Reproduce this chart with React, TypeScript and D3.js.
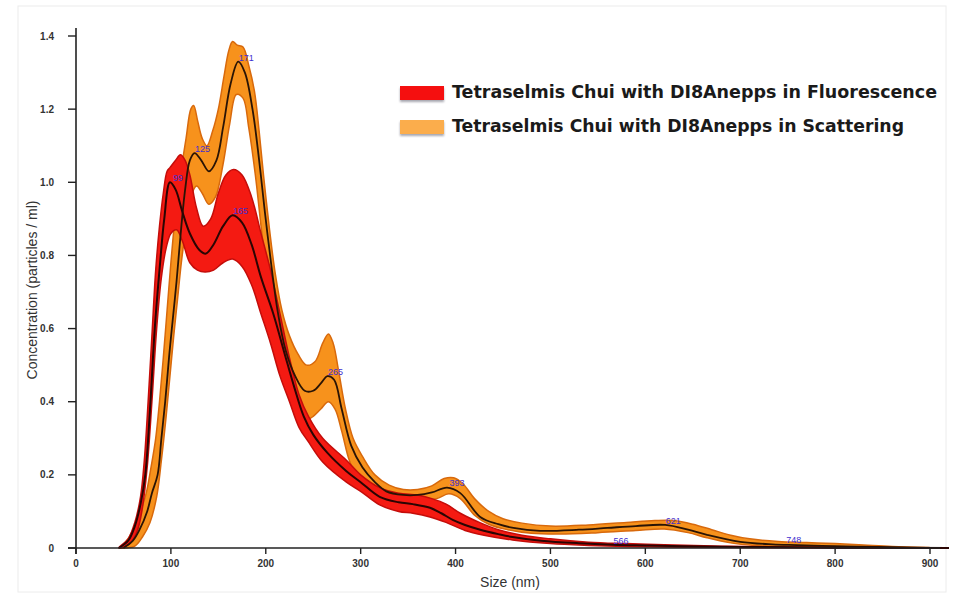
import React from "react";
import * as d3 from "d3";

// size (nm), concentration (particles / ml)
const fluoMean: [number, number][] = [
  [45, 0], [55, 0.02], [62, 0.06], [68, 0.12], [73, 0.2], [78, 0.38], [83, 0.6], [88, 0.76],
  [93, 0.9], [99, 1.0], [105, 0.98], [112, 0.92], [120, 0.86], [130, 0.815], [137, 0.805],
  [145, 0.83], [155, 0.88], [165, 0.91], [175, 0.89], [185, 0.83], [195, 0.74], [208, 0.64],
  [220, 0.53], [230, 0.44], [240, 0.36], [250, 0.31], [265, 0.26], [285, 0.21], [300, 0.18],
  [320, 0.14], [340, 0.125], [355, 0.12], [373, 0.11], [385, 0.095], [397, 0.077], [410, 0.063],
  [426, 0.05], [445, 0.038], [460, 0.03], [490, 0.02], [530, 0.013], [566, 0.009], [600, 0.007],
  [640, 0.005], [700, 0.003], [800, 0.001], [920, 0],
];
const fluoUpper: [number, number][] = [
  [45, 0], [55, 0.025], [62, 0.07], [68, 0.14], [72, 0.24], [76, 0.4], [80, 0.58], [84, 0.76],
  [88, 0.88], [92, 0.97], [96, 1.03], [99, 1.04], [105, 1.06], [110, 1.075], [115, 1.06], [120, 1.02],
  [127, 0.93], [134, 0.88], [142, 0.9], [150, 0.97], [158, 1.02], [166, 1.035], [175, 1.02],
  [185, 0.96], [195, 0.86], [205, 0.76], [215, 0.64], [225, 0.52], [235, 0.42], [245, 0.36],
  [260, 0.3], [285, 0.24], [300, 0.2], [320, 0.165], [340, 0.15], [360, 0.145], [375, 0.135],
  [390, 0.12], [405, 0.095], [425, 0.07], [445, 0.05], [470, 0.035], [500, 0.025], [540, 0.016],
  [580, 0.012], [620, 0.009], [680, 0.005], [750, 0.003], [850, 0.001], [920, 0],
];
const fluoLower: [number, number][] = [
  [48, 0], [58, 0.015], [65, 0.05], [70, 0.11], [75, 0.22], [80, 0.4], [85, 0.6], [90, 0.74],
  [95, 0.82], [100, 0.86], [106, 0.87], [112, 0.84], [120, 0.78], [128, 0.76], [136, 0.755],
  [145, 0.76], [155, 0.78], [165, 0.79], [175, 0.77], [185, 0.72], [195, 0.64], [205, 0.56],
  [215, 0.47], [225, 0.4], [235, 0.33], [245, 0.29], [260, 0.235], [285, 0.18], [300, 0.155],
  [320, 0.118], [340, 0.1], [355, 0.095], [373, 0.085], [390, 0.07], [410, 0.048], [430, 0.035],
  [460, 0.022], [500, 0.012], [540, 0.007], [580, 0.004], [640, 0.002], [720, 0.001], [800, 0],
  [920, 0],
];

const scatMean: [number, number][] = [
  [50, 0], [60, 0.02], [67, 0.05], [75, 0.1], [80, 0.15], [86, 0.2], [90, 0.3], [94, 0.4],
  [98, 0.52], [101, 0.6], [106, 0.73], [110, 0.85], [115, 0.98], [120, 1.06], [125, 1.08],
  [132, 1.06], [140, 1.03], [148, 1.06], [155, 1.15], [163, 1.27], [171, 1.33], [178, 1.3],
  [186, 1.2], [193, 1.06], [199, 0.92], [206, 0.77], [213, 0.64], [221, 0.54], [231, 0.47],
  [241, 0.43], [250, 0.43], [258, 0.45], [265, 0.47], [272, 0.46], [280, 0.38], [290, 0.28],
  [302, 0.22], [315, 0.18], [327, 0.155], [345, 0.145], [360, 0.145], [375, 0.152], [391, 0.165],
  [405, 0.15], [426, 0.085], [445, 0.065], [461, 0.055], [489, 0.047], [530, 0.05], [560, 0.055],
  [590, 0.06], [621, 0.063], [645, 0.05], [665, 0.036], [700, 0.017], [734, 0.01], [760, 0.008],
  [800, 0.005], [840, 0.003], [880, 0.001], [920, 0],
];
const scatUpper: [number, number][] = [
  [48, 0], [56, 0.03], [62, 0.06], [68, 0.1], [74, 0.15], [79, 0.22], [84, 0.3], [88, 0.4],
  [92, 0.52], [96, 0.65], [100, 0.78], [105, 0.92], [110, 1.02], [116, 1.12], [121, 1.2],
  [124, 1.21], [128, 1.17], [133, 1.12], [138, 1.1], [144, 1.14], [150, 1.2], [156, 1.29],
  [161, 1.36], [165, 1.385], [170, 1.375], [176, 1.37], [182, 1.32], [188, 1.25], [193, 1.14],
  [198, 1.01], [204, 0.87], [210, 0.75], [217, 0.65], [225, 0.58], [234, 0.53], [243, 0.5],
  [252, 0.51], [260, 0.56], [266, 0.585], [271, 0.56], [277, 0.48], [284, 0.38], [292, 0.3],
  [302, 0.25], [315, 0.2], [330, 0.172], [345, 0.16], [360, 0.16], [375, 0.17], [388, 0.19],
  [398, 0.192], [408, 0.175], [420, 0.135], [435, 0.1], [450, 0.08], [470, 0.068], [500, 0.06],
  [540, 0.063], [580, 0.07], [610, 0.075], [630, 0.075], [650, 0.065], [670, 0.05], [690, 0.035],
  [710, 0.025], [740, 0.018], [770, 0.015], [800, 0.012], [830, 0.008], [860, 0.004],
  [900, 0.001], [920, 0],
];
const scatLower: [number, number][] = [
  [52, 0], [62, 0.005], [70, 0.03], [78, 0.07], [85, 0.14], [90, 0.24], [95, 0.36], [99, 0.47],
  [103, 0.58], [107, 0.68], [111, 0.78], [116, 0.88], [121, 0.96], [127, 0.99], [133, 0.97],
  [140, 0.94], [147, 0.96], [155, 1.05], [162, 1.16], [169, 1.24], [176, 1.23], [182, 1.15],
  [189, 1.02], [195, 0.88], [201, 0.75], [208, 0.63], [216, 0.52], [224, 0.44], [233, 0.38],
  [242, 0.35], [250, 0.36], [258, 0.38], [266, 0.4], [273, 0.38], [280, 0.32], [288, 0.24],
  [297, 0.19], [310, 0.16], [325, 0.14], [345, 0.13], [365, 0.13], [380, 0.135], [393, 0.148],
  [405, 0.135], [420, 0.09], [435, 0.065], [455, 0.05], [480, 0.04], [510, 0.038], [550, 0.042],
  [590, 0.048], [620, 0.052], [645, 0.042], [665, 0.028], [690, 0.014], [715, 0.007],
  [745, 0.004], [790, 0.002], [840, 0.001], [920, 0],
];

// peak labels: [size, concentration at the peak]
const peaks: [number, number][] = [
  [99, 1.0], [125, 1.08], [171, 1.33], [165, 0.91], [265, 0.47], [393, 0.167],
  [566, 0.009], [621, 0.063], [748, 0.01],
];

const xTicks = [0, 100, 200, 300, 400, 500, 600, 700, 800, 900];
const yTicks = [0, 0.2, 0.4, 0.6, 0.8, 1.0, 1.2, 1.4];
const legendLabels = [
  "Tetraselmis Chui with DI8Anepps in Fluorescence",
  "Tetraselmis Chui with DI8Anepps in Scattering",
];

const App = () => {
  const svgRef = React.useRef<SVGSVGElement>(null);
  const width = 964;
  const height = 598;

  React.useEffect(() => {
    const svg = d3.select(svgRef.current);
    svg.selectAll("*").remove();

    const x = d3.scaleLinear().domain([0, 900]).range([76, 930]);
    const y = d3.scaleLinear().domain([0, 1.4]).range([548, 36]);

    svg
      .append("rect")
      .attr("x", 18)
      .attr("y", 6)
      .attr("width", 928)
      .attr("height", 586)
      .attr("fill", "white")
      .attr("stroke", "#ececec");

    const band = d3
      .line<[number, number]>()
      .x((d) => x(d[0]))
      .y((d) => y(d[1]))
      .curve(d3.curveCatmullRomClosed.alpha(0.5));
    const line = d3
      .line<[number, number]>()
      .x((d) => x(d[0]))
      .y((d) => y(d[1]))
      .curve(d3.curveCatmullRom.alpha(0.5));

    svg
      .append("path")
      .attr("d", band([...scatUpper, ...scatLower.slice().reverse()]))
      .attr("fill", "#f7921c")
      .attr("stroke", "#d8690c")
      .attr("stroke-width", 1.5);
    svg
      .append("path")
      .attr("d", band([...fluoUpper, ...fluoLower.slice().reverse()]))
      .attr("fill", "#f41a12")
      .attr("stroke", "#c40d0a")
      .attr("stroke-width", 1.5);

    svg
      .append("path")
      .attr("d", line(scatMean))
      .attr("fill", "none")
      .attr("stroke", "#2a1405")
      .attr("stroke-width", 1.8);
    svg
      .append("path")
      .attr("d", line(fluoMean))
      .attr("fill", "none")
      .attr("stroke", "#2a0503")
      .attr("stroke-width", 2);

    // axes
    const xAxis = svg.append("g");
    xAxis
      .append("line")
      .attr("x1", 68)
      .attr("x2", 940)
      .attr("y1", y(0))
      .attr("y2", y(0))
      .attr("stroke", "#222")
      .attr("stroke-width", 1.6);
    xAxis
      .selectAll("line.tick")
      .data(xTicks)
      .join("line")
      .attr("class", "tick")
      .attr("x1", (d) => x(d))
      .attr("x2", (d) => x(d))
      .attr("y1", y(0))
      .attr("y2", y(0) + 6)
      .attr("stroke", "#222")
      .attr("stroke-width", 1.4);
    xAxis
      .selectAll("text")
      .data(xTicks)
      .join("text")
      .attr("x", (d) => x(d))
      .attr("y", y(0) + 19)
      .attr("text-anchor", "middle")
      .attr("font-family", "Liberation Sans, Arial, sans-serif")
      .attr("font-size", 10)
      .attr("font-weight", "bold")
      .attr("fill", "#333")
      .text((d) => d);

    const yAxis = svg.append("g");
    yAxis
      .append("line")
      .attr("x1", x(0))
      .attr("x2", x(0))
      .attr("y1", 28)
      .attr("y2", y(0) + 6)
      .attr("stroke", "#222")
      .attr("stroke-width", 1.6);
    yAxis
      .selectAll("line.tick")
      .data(yTicks)
      .join("line")
      .attr("class", "tick")
      .attr("x1", x(0) - 8)
      .attr("x2", x(0))
      .attr("y1", (d) => y(d))
      .attr("y2", (d) => y(d))
      .attr("stroke", "#222")
      .attr("stroke-width", 1.4);
    yAxis
      .selectAll("text")
      .data(yTicks)
      .join("text")
      .attr("x", x(0) - 22)
      .attr("y", (d) => y(d) + 3.5)
      .attr("text-anchor", "end")
      .attr("font-family", "Liberation Sans, Arial, sans-serif")
      .attr("font-size", 10)
      .attr("font-weight", "bold")
      .attr("fill", "#333")
      .text((d) => (d === 0 ? "0" : d.toFixed(1)));

    svg
      .append("text")
      .attr("x", 510)
      .attr("y", 587)
      .attr("text-anchor", "middle")
      .attr("font-family", "Liberation Sans, Arial, sans-serif")
      .attr("font-size", 14)
      .attr("fill", "#333")
      .text("Size (nm)");
    svg
      .append("text")
      .attr("transform", "translate(37,290) rotate(-90)")
      .attr("text-anchor", "middle")
      .attr("font-family", "Liberation Sans, Arial, sans-serif")
      .attr("font-size", 14)
      .attr("fill", "#333")
      .text("Concentration (particles / ml)");

    // peak labels
    svg
      .append("g")
      .selectAll("text")
      .data(peaks)
      .join("text")
      .attr("x", (d) => x(d[0]) + 8)
      .attr("y", (d) => y(d[1]) - 1)
      .attr("text-anchor", "middle")
      .attr("font-family", "Liberation Sans, Arial, sans-serif")
      .attr("font-size", 9)
      .attr("fill", "#3f2fd0")
      .text((d) => d[0]);

    // legend
    const legend = svg.append("g");
    const swatch = ["#f50f0f", "#fbad4c"];
    const lengths = [485, 452];
    legendLabels.forEach((label, i) => {
      legend
        .append("rect")
        .attr("x", 400)
        .attr("y", 86 + i * 34)
        .attr("width", 44)
        .attr("height", 14)
        .attr("fill", swatch[i])
        .attr("filter", "drop-shadow(0px 2px 1px rgba(60,60,80,0.45))");
      legend
        .append("text")
        .attr("x", 452)
        .attr("y", 98 + i * 34)
        .attr("font-family", "DejaVu Sans, sans-serif")
        .attr("font-size", 17)
        .attr("font-weight", "bold")
        .attr("fill", "#1a1a1a")
        .attr("textLength", lengths[i])
        .attr("lengthAdjust", "spacingAndGlyphs")
        .text(label);
    });
  }, []);

  return (
    <svg
      ref={svgRef}
      width={width}
      height={height}
      style={{ position: "absolute", left: 0, top: 0, background: "white" }}
    />
  );
};

export default App;
